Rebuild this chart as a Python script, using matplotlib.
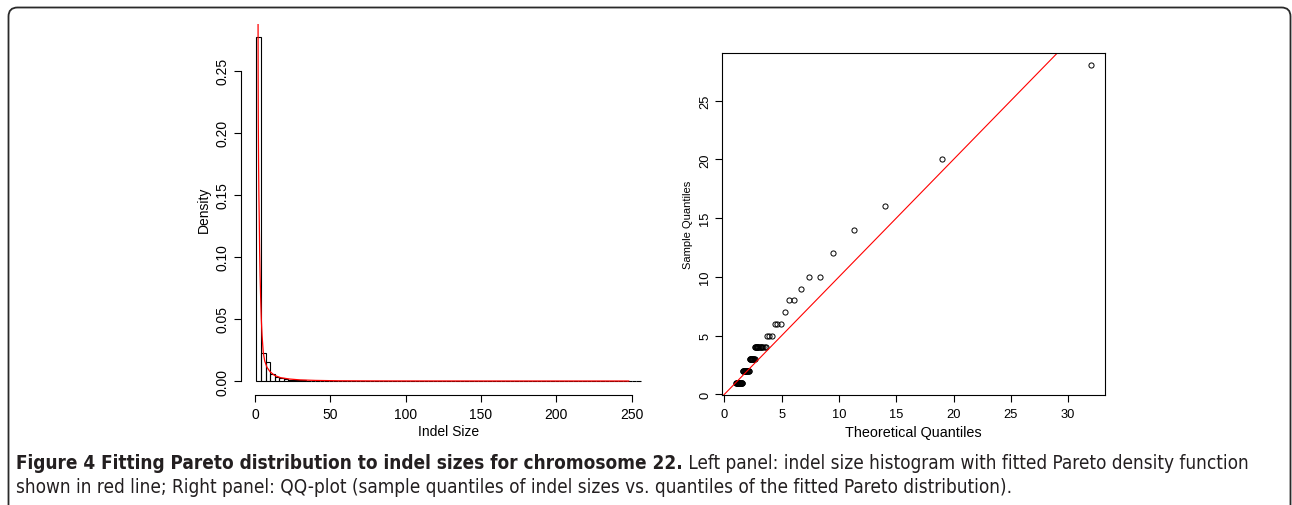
import numpy as np
import matplotlib
matplotlib.use("Agg")
import matplotlib.pyplot as plt
from matplotlib.patches import FancyBboxPatch
from matplotlib.transforms import IdentityTransform
from matplotlib import font_manager as fm

W, H = 1292, 506

# ---------------- data ----------------
# histogram of indel sizes (bins of width 3 starting at 1)
bin_edges = np.arange(1, 257, 3)
bin_density_head = [0.277, 0.0226, 0.0150, 0.0056, 0.0035, 0.0021, 0.0016,
                    0.0011, 0.0008, 0.0006, 0.0005, 0.0004, 0.0003, 0.0003,
                    0.0002, 0.0002, 0.0001, 0.0001]
bin_density = bin_density_head + [0.0] * (len(bin_edges) - 1 - len(bin_density_head))

# fitted Pareto density
pareto_x = [2.0, 2.1, 2.2, 2.4, 2.6, 2.85, 3.1, 3.4, 3.8, 4.2, 4.7, 5.5, 6.5,
            8, 10, 13, 17, 23, 30, 40, 55, 75, 100, 150, 200, 248]
pareto_y = [0.34, 0.25, 0.21, 0.175, 0.15, 0.13, 0.105, 0.085, 0.066, 0.05,
            0.037, 0.023, 0.016, 0.011, 0.0075, 0.0045, 0.0027, 0.0016,
            0.0009, 0.0005, 0.0002, 0.0001, 0.00005, 0.00002, 0.00001, 0.0]

left_xticks = [0, 50, 100, 150, 200, 250]
left_yticks = [0.00, 0.05, 0.10, 0.15, 0.20, 0.25]

# QQ plot: theoretical quantiles grouped by sample quantile value
qq_levels = [1, 2, 3, 4, 5, 6, 7, 8, 9, 10, 12, 14, 16, 20, 28]
qq_theo_1 = [1.00, 1.03, 1.06, 1.09, 1.12, 1.15, 1.18, 1.21, 1.24, 1.27, 1.30,
             1.33, 1.36, 1.39, 1.42, 1.45, 1.48, 1.51, 1.54, 1.57]
qq_theo_2 = [1.60, 1.63, 1.66, 1.69, 1.72, 1.75, 1.78, 1.81, 1.84, 1.87, 1.90,
             1.94, 1.98, 2.02, 2.06, 2.10, 2.15]
qq_theo_3 = [2.19, 2.22, 2.25, 2.28, 2.31, 2.34, 2.37, 2.40, 2.44, 2.48, 2.52,
             2.56, 2.60, 2.64]
qq_theo_4 = [2.68, 2.71, 2.74, 2.77, 2.80, 2.84, 2.88, 2.92, 2.97, 3.02, 3.08,
             3.15, 3.22, 3.30, 3.40, 3.50, 3.62]
qq_theo_5 = [3.72, 3.92, 4.12]
qq_theo_6 = [4.40, 4.63, 4.90]
qq_theo_7 = [5.29]
qq_theo_8 = [5.67, 6.10]
qq_theo_9 = [6.69]
qq_theo_10 = [7.38, 8.31]
qq_theo_12 = [9.50]
qq_theo_14 = [11.27]
qq_theo_16 = [14.0]
qq_theo_20 = [19.0]
qq_theo_28 = [31.95]
qq_groups = [qq_theo_1, qq_theo_2, qq_theo_3, qq_theo_4, qq_theo_5, qq_theo_6,
             qq_theo_7, qq_theo_8, qq_theo_9, qq_theo_10, qq_theo_12,
             qq_theo_14, qq_theo_16, qq_theo_20, qq_theo_28]
right_xticks = [0, 5, 10, 15, 20, 25, 30]
right_yticks = [0, 5, 10, 15, 20, 25]

caption_bold = "Figure 4 Fitting Pareto distribution to indel sizes for chromosome 22."
caption_rest1 = " Left panel: indel size histogram with fitted Pareto density function"
caption_line2 = ("shown in red line; Right panel: QQ-plot (sample quantiles of indel "
                 "sizes vs. quantiles of the fitted Pareto distribution).")

# ---------------- figure ----------------
plt.rcParams["font.family"] = ["Liberation Sans", "DejaVu Sans"]
fig = plt.figure(figsize=(W / 100, H / 100), dpi=100)
fig.patch.set_facecolor("white")


def px_axes(x0, y0, x1, y1):
    return fig.add_axes([x0 / W, 1 - y1 / H, (x1 - x0) / W, (y1 - y0) / H])


# frame
frame = FancyBboxPatch((8.5, -30), 1290.5 - 8.5, (H - 8.5) + 30,
                       boxstyle="round,pad=0,rounding_size=9",
                       transform=IdentityTransform(), fill=False,
                       lw=1.3, ec="#2a2a2a")
fig.patches.append(frame)

# ---- left panel: histogram ----
axL = px_axes(241.1, 24.6, 656.2, 395.8)
axL.bar(bin_edges[:-1], bin_density, width=3, align="edge", fill=False,
        edgecolor="black", lw=0.8)
axL.plot(pareto_x, pareto_y, color="red", lw=0.9)
axL.set_xlim(-9.2, 266.2)
axL.set_ylim(-0.0111, 0.288)
for s in ["top", "right"]:
    axL.spines[s].set_visible(False)
axL.spines["left"].set_bounds(0, 0.25)
axL.spines["bottom"].set_bounds(0, 250)
for s in ["left", "bottom"]:
    axL.spines[s].set_linewidth(0.8)
axL.set_xticks(left_xticks)
axL.set_xticklabels([str(v) for v in left_xticks])
axL.set_yticks(left_yticks)
axL.set_yticklabels(["%.2f" % v for v in left_yticks], rotation=90, va="center")
axL.tick_params(length=5, width=0.8, labelsize=10, pad=4)
axL.tick_params(axis="y", pad=3)
axL.set_xlabel("Indel Size", fontsize=10)
axL.set_ylabel("Density", fontsize=10)
axL.xaxis.set_label_coords(0.5, -0.0975)
axL.yaxis.set_label_coords(-0.0894, 0.5)
axL.xaxis.label.set_va("center")
axL.yaxis.label.set_va("center")

# ---- right panel: QQ plot ----
axR = px_axes(721.7, 53.7, 1105.3, 396.2)
for lvl, grp in zip(qq_levels, qq_groups):
    axR.plot(grp, [lvl] * len(grp), linestyle="none", marker="o", ms=3.7,
             mfc="none", mec="black", mew=0.7)
axR.axline((0, 0), slope=1, color="red", lw=0.8)
axR.set_xlim(-0.24, 33.24)
axR.set_ylim(-0.08, 29.08)
for s in axR.spines.values():
    s.set_linewidth(0.8)
axR.set_xticks(right_xticks)
axR.set_xticklabels([str(v) for v in right_xticks])
axR.set_yticks(right_yticks)
axR.set_yticklabels([str(v) for v in right_yticks], rotation=90, va="center")
axR.tick_params(length=5, width=0.8, labelsize=9.3, pad=4)
axR.tick_params(axis="y", pad=2.5)
axR.set_xlabel("Theoretical Quantiles", fontsize=10.4)
axR.set_ylabel("Sample Quantiles", fontsize=8)
axR.xaxis.set_label_coords(0.5, -0.1066)
axR.yaxis.set_label_coords(-0.0879, 0.5)
axR.xaxis.label.set_va("center")
axR.yaxis.label.set_va("center")

# ---- caption ----
# prefer a condensed face if one is installed
cond = None
for f in fm.fontManager.ttflist:
    if f.stretch in ("condensed", "semi-condensed", "extra-condensed") or \
            "Condensed" in f.name or "Narrow" in f.name:
        cond = f.name
        break
if cond is not None:
    cap_font = [cond, "DejaVu Sans"]
    cap_kw = dict(fontstretch="condensed")
    cap_size = 13.6
else:
    cap_font = ["Open Sans", "DejaVu Sans"]
    cap_kw = {}
    cap_size = 12.0

t1 = fig.text(16 / W, 1 - 469 / H, caption_bold, fontsize=cap_size,
              fontweight="bold", family=cap_font, color="#231f20",
              va="baseline", ha="left", **cap_kw)
fig.canvas.draw()
bb = t1.get_window_extent()
t2 = fig.text(bb.x1 / W, 1 - 469 / H, caption_rest1, fontsize=cap_size,
              family=cap_font, color="#231f20", va="baseline", ha="left",
              **cap_kw)
t3 = fig.text(16 / W, 1 - 493 / H, caption_line2, fontsize=cap_size,
              family=cap_font, color="#231f20", va="baseline", ha="left",
              **cap_kw)

fig.savefig("out.png", dpi=100)
